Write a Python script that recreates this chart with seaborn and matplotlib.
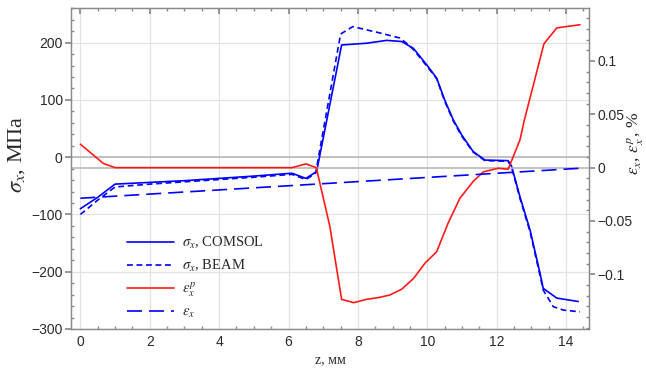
import numpy as np
import pandas as pd
import matplotlib
matplotlib.use("Agg")
import matplotlib.pyplot as plt
import seaborn as sns
from matplotlib.ticker import MultipleLocator, FuncFormatter

# ---------------- data ----------------
z_comsol = [0, 0.5, 1.0, 2, 3, 4, 5, 6.1, 6.5, 6.81, 7.53, 8.25, 8.83, 9.26, 9.6, 10.0,
            10.27, 10.5, 10.75, 11.0, 11.32, 11.66, 12.33, 12.43, 12.67, 12.96, 13.25,
            13.34, 13.73, 14.35]
sigma_comsol = [-90, -70, -47, -44, -41, -37, -33, -28, -37, -25, 196, 199, 204, 202, 190, 160,
                138, 100, 65, 38, 10, -5, -6, -16, -69, -127, -203,
                -229, -246, -252]

z_beam = [0, 0.5, 1.0, 2, 3, 4, 5, 6.1, 6.5, 6.78, 7.5, 7.85, 8.63, 9.21, 9.4, 9.6, 10.0,
          10.27, 10.5, 10.75, 11.0, 11.32, 11.66, 12.33, 12.43, 12.67, 12.96, 13.25, 13.34,
          13.63, 13.92, 14.4]
sigma_beam = [-100, -75, -52, -47, -43, -39, -35, -30, -39, -28, 215, 228, 217, 208, 199, 188, 158,
              137, 98, 63, 36, 9, -6, -7, -18, -72, -130, -207, -232,
              -261, -267, -270]

z_ep = [0, 0.66, 1.0, 2, 4, 6.1, 6.5, 6.8, 7.19, 7.53, 7.88, 8.25, 8.63, 8.92, 9.26, 9.6,
        9.93, 10.27, 10.6, 10.94, 11.32, 11.61, 12.04, 12.33, 12.67, 12.8, 13.36, 13.73, 14.4]
eps_p = [0.022, 0.004, 0.0, 0.0, 0.0, 0.0, 0.0035, 0.0, -0.055, -0.1235, -0.1266, -0.1235,
         -0.1216, -0.1194, -0.114, -0.104, -0.0897, -0.0788, -0.052, -0.0287, -0.013, -0.004,
         -0.0006, -0.0015, 0.026, 0.045, 0.116, 0.131, 0.134]

z_ex = [0, 14.4]
eps_x = [-0.0287, -0.0006]

x_ticks = [0, 2, 4, 6, 8, 10, 12, 14]
left_ticks = [-300, -200, -100, 0, 100, 200]
right_ticks = [-0.1, -0.05, 0, 0.05, 0.1]

labels = [r"$\sigma_x$, COMSOL", r"$\sigma_x$, BEAM", r"$\varepsilon_x^p$", r"$\varepsilon_x$"]
xlabel = "z, мм"
ylabel_left = r"$\sigma_x$, МПа"
ylabel_right = r"$\varepsilon_x$, $\varepsilon_x^p$, %"

# ---------------- style ----------------
sns.set_theme(style="white")
plt.rcParams["font.family"] = ["Liberation Sans", "DejaVu Sans"]
plt.rcParams["mathtext.fontset"] = "stix"
serif = ["Liberation Serif", "DejaVu Serif"]

BLUE = "#0000ff"
RED = "#ff1a1a"
GRID = "#e2e2e2"
ZERO = "#b8b8b8"
SPINE = "#8a8a8a"
TXT = "#2a2a2a"

fig = plt.figure(figsize=(6.46, 3.72), dpi=100)
ax = fig.add_axes([71 / 646, 1 - 329 / 372, (589 - 71) / 646, (329 - 8.3) / 372])
ax2 = ax.twinx()

df_c = pd.DataFrame({"z": z_comsol, "v": sigma_comsol})
df_b = pd.DataFrame({"z": z_beam, "v": sigma_beam})
df_p = pd.DataFrame({"z": z_ep, "v": eps_p})
df_x = pd.DataFrame({"z": z_ex, "v": eps_x})

lw = 1.2
ax.axhline(0, color=ZERO, lw=1.2, zorder=1)
ax2.axhline(0, color=ZERO, lw=1.2, zorder=1)

sns.lineplot(data=df_p, x="z", y="v", ax=ax2, color=RED, lw=lw, estimator=None, legend=False)
sns.lineplot(data=df_x, x="z", y="v", ax=ax2, color=BLUE, lw=lw, estimator=None, legend=False,
             linestyle=(0, (9.0, 4.2)))
sns.lineplot(data=df_c, x="z", y="v", ax=ax, color=BLUE, lw=lw, estimator=None, legend=False)
sns.lineplot(data=df_b, x="z", y="v", ax=ax, color=BLUE, lw=lw, estimator=None, legend=False,
             linestyle=(0, (3.5, 2.2)))

ax.set_xlim(-0.27, 14.66)
ax.set_ylim(-300, 260)
ax2.set_ylim(-0.1513, 0.1494)

ax.set_xticks(x_ticks)
ax.set_yticks(left_ticks)
ax2.set_yticks(right_ticks)
ax.xaxis.set_minor_locator(MultipleLocator(0.5))
ax.yaxis.set_minor_locator(MultipleLocator(20))
ax2.yaxis.set_minor_locator(MultipleLocator(0.01))

def fmt(v, pos):
    s = f"{v:g}"
    return s.replace("-", "\u2212")

ax.yaxis.set_major_formatter(FuncFormatter(fmt))
ax2.yaxis.set_major_formatter(FuncFormatter(fmt))
ax.xaxis.set_major_formatter(FuncFormatter(fmt))

ax.grid(True, which="major", color=GRID, lw=0.9)
ax.set_axisbelow(True)
ax2.grid(False)

for a in (ax, ax2):
    for s in a.spines.values():
        s.set_color(SPINE)
        s.set_linewidth(0.9)

ax.tick_params(axis="x", which="major", direction="in", length=4, color=SPINE, labelsize=10,
               labelcolor=TXT, pad=4, top=True)
ax.tick_params(axis="x", which="minor", direction="in", length=2, color=SPINE, top=True, bottom=True)
ax.tick_params(axis="y", which="major", direction="out", length=4, color=SPINE, labelsize=10,
               labelcolor=TXT, pad=2, left=True)
ax.tick_params(axis="y", which="minor", direction="in", length=2, color=SPINE, left=True)
ax2.tick_params(axis="y", which="major", direction="out", length=4, color=SPINE, labelsize=10,
                labelcolor=TXT, pad=2, right=True)
ax2.tick_params(axis="y", which="minor", direction="in", length=2, color=SPINE, right=True)

ax.set_xlabel(xlabel, family=serif, fontsize=10, color=TXT)
ax.xaxis.set_label_coords(0.5, -0.075)
ax.set_ylabel(ylabel_left, family=serif, fontsize=16, color=TXT)
ax.yaxis.set_label_coords(-0.085, 0.545)
ax2.set_ylabel(ylabel_right, family=serif, fontsize=12.5, color=TXT, rotation=90)
ax2.yaxis.set_label_coords(1.07, 0.58)

handles = [ax.lines[-2], ax.lines[-1], ax2.lines[-2], ax2.lines[-1]]
leg = fig.legend(handles, labels, loc="upper left", bbox_to_anchor=(127 / 646, 1 - 235 / 372),
                 frameon=False, borderpad=0, borderaxespad=0, handlelength=3.2,
                 handletextpad=0.6, labelspacing=0.45,
                 prop={"family": serif, "size": 10.5})
for t in leg.get_texts():
    t.set_color(TXT)

fig.savefig("out.png", dpi=100)
